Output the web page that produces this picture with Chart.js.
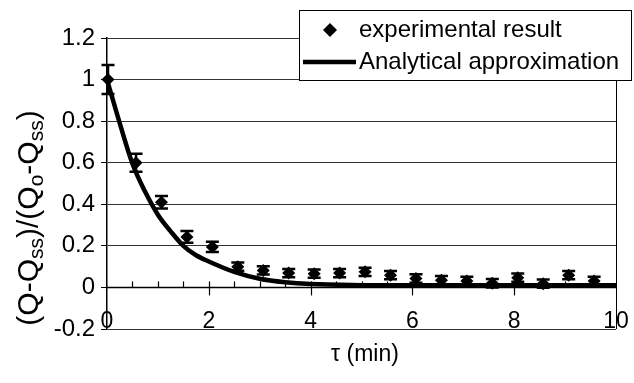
<!DOCTYPE html>
<html>
<head>
<meta charset="utf-8">
<script src="https://cdn.jsdelivr.net/npm/chart.js@4.4.0/dist/chart.umd.min.js"></script>
<style>
	body { margin: 0; background: #ffffff; }
	#table { position: relative; width: 634px; height: 383px; }
</style>
</head>
<body>
<div id="table"><canvas id="myCanvas" width="634" height="383"></canvas></div>
<script>
// measured points with error bars
var expTime  = [0.02, 0.57, 1.07, 1.57, 2.07, 2.57, 3.07, 3.57, 4.07, 4.57, 5.07, 5.57, 6.07, 6.57, 7.07, 7.57, 8.07, 8.57, 9.07, 9.57];
var expValue = [1.0, 0.60, 0.41, 0.243, 0.195, 0.10, 0.082, 0.069, 0.066, 0.069, 0.075, 0.059, 0.043, 0.035, 0.031, 0.02, 0.047, 0.018, 0.059, 0.031];
var expError = [0.07, 0.043, 0.03, 0.028, 0.025, 0.02, 0.02, 0.02, 0.02, 0.02, 0.02, 0.02, 0.02, 0.02, 0.02, 0.02, 0.02, 0.02, 0.02, 0.02];

// analytical approximation
var fitTime  = [0, 0.25, 0.5, 0.75, 1, 1.25, 1.5, 1.75, 2, 2.5, 3, 3.5, 4, 5, 6, 7, 8, 9, 10];
var fitValue = [1.0, 0.79, 0.595, 0.46, 0.35, 0.27, 0.2, 0.155, 0.125, 0.075, 0.042, 0.025, 0.016, 0.011, 0.01, 0.01, 0.01, 0.01, 0.01];

var yTickLabels = ['-0.2', '0', '0.2', '0.4', '0.6', '0.8', '1', '1.2'];
var xTickLabels = ['0', '2', '4', '6', '8', '10'];
var legendLabels = ['experimental result', 'Analytical approximation'];

var FONT = '"Liberation Sans", Arial, sans-serif';

function points(xs, ys) {
	var out = [];
	for (var i = 0; i < xs.length; i++) out.push({ x: xs[i], y: ys[i] });
	return out;
}

// zero axis, error bars, titles and legend box
var decor = {
	id: 'decor',
	beforeDatasetsDraw: function(chart) {
		var ctx = chart.ctx, a = chart.chartArea;
		var xs = chart.scales.x, ys = chart.scales.y;
		var y0 = ys.getPixelForValue(0);
		ctx.save();
		ctx.strokeStyle = '#000';
		ctx.lineWidth = 1.5;
		ctx.beginPath(); ctx.moveTo(a.left, y0); ctx.lineTo(a.right, y0); ctx.stroke();
		ctx.lineWidth = 1.2;
		for (var v = 0.5; v < 10; v += 0.5) {
			var px = Math.round(xs.getPixelForValue(v)) + 0.5;
			ctx.beginPath();
			if (v % 2 == 0) { ctx.moveTo(px, y0 - 6); ctx.lineTo(px, y0 + 8); }
			else { ctx.moveTo(px, y0 - 6); ctx.lineTo(px, y0); }
			ctx.stroke();
		}
		// right border
		ctx.lineWidth = 1;
		ctx.beginPath(); ctx.moveTo(a.right + 0.5, a.top); ctx.lineTo(a.right + 0.5, a.bottom); ctx.stroke();
		ctx.restore();
	},
	afterDatasetsDraw: function(chart) {
		var ctx = chart.ctx, a = chart.chartArea;
		var xs = chart.scales.x, ys = chart.scales.y;
		ctx.save();
		ctx.strokeStyle = '#000';
		ctx.lineWidth = 2.5;
		for (var i = 0; i < expTime.length; i++) {
			var px = xs.getPixelForValue(expTime[i]);
			var top = ys.getPixelForValue(expValue[i] + expError[i]);
			var bot = ys.getPixelForValue(expValue[i] - expError[i]);
			ctx.beginPath();
			ctx.moveTo(px, top); ctx.lineTo(px, bot);
			ctx.moveTo(px - 6.5, top); ctx.lineTo(px + 6.5, top);
			ctx.moveTo(px - 6.5, bot); ctx.lineTo(px + 6.5, bot);
			ctx.stroke();
		}

		// x tick labels sit on the bottom edge
		ctx.fillStyle = '#000';
		ctx.font = '23px ' + FONT;
		ctx.textAlign = 'center';
		ctx.textBaseline = 'alphabetic';
		xTickLabels.forEach(function(t) {
			ctx.fillText(t, xs.getPixelForValue(Number(t)), a.bottom - 1);
		});

		// x title
		ctx.textBaseline = 'middle';
		ctx.fillText('\u03C4 (min)', 365, 355);

		// y title with subscripts
		var parts = [['(Q-Q', 0], ['ss', 1], [')/(Q', 0], ['o', 1], ['-Q', 0], ['ss', 1], [')', 0]];
		var big = '30px ' + FONT, small = '21px ' + FONT;
		var w = 0;
		parts.forEach(function(p) { ctx.font = p[1] ? small : big; w += ctx.measureText(p[0]).width; });
		ctx.translate(28, 218);
		ctx.rotate(-Math.PI / 2);
		ctx.textAlign = 'left';
		ctx.textBaseline = 'alphabetic';
		var cx = -w / 2;
		parts.forEach(function(p) {
			ctx.font = p[1] ? small : big;
			ctx.fillText(p[0], cx, p[1] ? 15 : 10);
			cx += ctx.measureText(p[0]).width;
		});
		ctx.restore();

		// legend
		ctx.save();
		ctx.fillStyle = '#fff';
		ctx.fillRect(299, 10, 333, 70);
		ctx.strokeStyle = '#000';
		ctx.lineWidth = 1;
		ctx.strokeRect(299.5, 10.5, 332, 70);
		ctx.fillStyle = '#000';
		ctx.beginPath();
		ctx.moveTo(330, 23); ctx.lineTo(337, 30); ctx.lineTo(330, 37); ctx.lineTo(323, 30);
		ctx.closePath(); ctx.fill();
		ctx.lineWidth = 4.5;
		ctx.beginPath(); ctx.moveTo(303, 62); ctx.lineTo(356, 62); ctx.stroke();
		ctx.font = '24px ' + FONT;
		ctx.textAlign = 'left';
		ctx.textBaseline = 'middle';
		ctx.fillText(legendLabels[0], 359, 30);
		ctx.fillText(legendLabels[1], 359, 62);
		ctx.restore();
	}
};

var ctx = document.getElementById('myCanvas').getContext('2d');
var myChart = new Chart(ctx, {
	type: 'line',
	data: {
		datasets: [{
			label: legendLabels[0],
			data: points(expTime, expValue),
			showLine: false,
			pointStyle: 'rectRot',
			pointRadius: 6.5,
			pointBackgroundColor: '#000',
			pointBorderWidth: 0,
			clip: false
		}, {
			label: legendLabels[1],
			data: points(fitTime, fitValue),
			borderColor: '#000',
			borderWidth: 4.5,
			pointRadius: 0,
			cubicInterpolationMode: 'monotone',
			fill: false,
			clip: false
		}]
	},
	options: {
		responsive: false,
		animation: false,
		layout: { padding: { left: 0, top: 38, right: 18, bottom: 54 } },
		plugins: { legend: { display: false }, tooltip: { enabled: false } },
		scales: {
			x: { type: 'linear', min: 0, max: 10, display: false },
			y: {
				min: -0.2, max: 1.2,
				ticks: {
					stepSize: 0.2,
					color: '#000',
					padding: 6,
					font: { family: FONT, size: 24 },
					callback: function(v, i) { return yTickLabels[i]; }
				},
				grid: { color: '#333', lineWidth: 1, tickLength: 6, tickColor: '#000' },
				border: { color: '#000', width: 1.5 },
				afterFit: function(s) { s.width = 107; }
			}
		}
	},
	plugins: [decor]
});
</script>
</body>
</html>
